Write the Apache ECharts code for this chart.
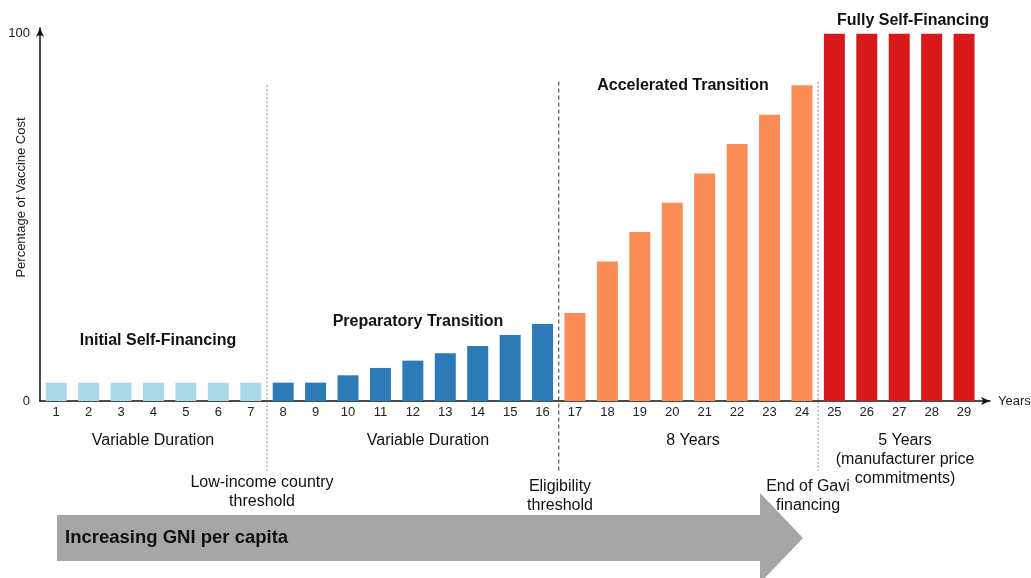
<!DOCTYPE html>
<html>
<head>
<meta charset="utf-8">
<script src="https://cdn.jsdelivr.net/npm/echarts@6/dist/echarts.min.js"></script>
<style>
html,body{margin:0;padding:0;background:#fff;}
#chart{width:1031px;height:578px;}
</style>
</head>
<body>
<div id="chart"></div>
<script>
// ---- data ----
const years = [1,2,3,4,5,6,7,8,9,10,11,12,13,14,15,16,17,18,19,20,21,22,23,24,25,26,27,28,29];
const costShare = [5,5,5,5,5,5,5, 5,5,7,9,11,13,15,18,21, 24,38,46,54,62,70,78,86, 100,100,100,100,100];
const phaseLastYear = [7, 16, 24, 29];
const phaseNames = ['Initial Self-Financing', 'Preparatory Transition', 'Accelerated Transition', 'Fully Self-Financing'];
const phaseDurations = ['Variable Duration', 'Variable Duration', '8 Years', '5 Years\n(manufacturer price\ncommitments)'];
const dividerYears = [7.5, 16.5, 24.5];
const dividerTops = [86, 87, 87];
const dividerLabels = ['Low-income country\nthreshold', 'Eligibility\nthreshold', 'End of Gavi\nfinancing'];
const yTicks = [0, 100];

const phaseColors = ['#abd9e9', '#2c7bb6', '#fc8d59', '#d7191c'];
const FONT = '"Liberation Sans", Arial, Helvetica, sans-serif';

function phaseOf(y){ for (let i=0;i<phaseLastYear.length;i++){ if (y<=phaseLastYear[i]) return i; } return phaseLastYear.length-1; }

const barData = years.map((y,i)=>({value:[y, costShare[i]], itemStyle:{color: phaseColors[phaseOf(y)]}}));
const dividerData = dividerYears.map((d,i)=>[d, dividerTops[i]]);
const dividerStyles = [
  {stroke:'#8a8a8a', lineDash:[2,2], lineWidth:1},
  {stroke:'#333333', lineDash:[4,3], lineWidth:1},
  {stroke:'#8a8a8a', lineDash:[2,2], lineWidth:1}
];

const chart = echarts.init(document.getElementById('chart'));

const T = (x, y, text, font, extra) => ({type:'text', x:x, y:y, z:3,
  style:Object.assign({text:text, font:font, fill:'#111', align:'center', verticalAlign:'middle'}, extra || {})});

const option = {
  animation:false,
  backgroundColor:'#fff',
  textStyle:{fontFamily:FONT},
  grid:{left:40, right:41, top:28, bottom:177, containLabel:false, outerBoundsMode:'none'},
  xAxis:{
    type:'value', min:0.5, max:29.8,
    name:'Years', nameLocation:'end', nameGap:8,
    nameTextStyle:{color:'#222', fontSize:13, fontFamily:FONT, verticalAlign:'middle'},
    axisLine:{show:true, lineStyle:{color:'#111', width:1.5}, symbol:['none','arrow'], symbolSize:[6,9]},
    axisTick:{show:false},
    splitLine:{show:false},
    axisLabel:{customValues:years, color:'#222', fontSize:13, margin:5, fontFamily:FONT}
  },
  yAxis:{
    type:'value', min:0, max:101.6,
    name:'Percentage of Vaccine Cost', nameLocation:'middle', nameGap:12, nameMoveOverlap:false,
    nameTextStyle:{color:'#222', fontSize:13, fontFamily:FONT, padding:[0,0,0,34]},
    axisLine:{show:true, lineStyle:{color:'#111', width:1.5}, symbol:['none','arrow'], symbolSize:[6,9]},
    axisTick:{show:false},
    splitLine:{show:false},
    axisLabel:{customValues:yTicks, color:'#222', fontSize:13, margin:10, fontFamily:FONT}
  },
  series:[
    {
      type:'bar', data:barData, barWidth:21
    },
    {
      type:'custom', clip:false, silent:true,
      data:dividerData,
      renderItem:function(params, api){
        const x = api.value(0);
        const top = api.coord([x, api.value(1)]);
        const base = api.coord([x, 0]);
        const s = dividerStyles[params.dataIndex];
        return {type:'line', shape:{x1:top[0], y1:top[1], x2:top[0], y2:base[1]+70}, style:Object.assign({fill:null}, s)};
      }
    }
  ],
  graphic:[
    {type:'polygon', shape:{points:[[57,515],[760,515],[760,493],[803,538],[760,583],[760,561],[57,561]]}, style:{fill:'#a6a6a6'}, z:0},
    T(65, 538, 'Increasing GNI per capita', 'bold 18.5px '+FONT, {align:'left'}),
    T(158, 341, phaseNames[0], 'bold 16px '+FONT),
    T(418, 322, phaseNames[1], 'bold 16px '+FONT),
    T(683, 86, phaseNames[2], 'bold 16px '+FONT),
    T(913, 21, phaseNames[3], 'bold 16px '+FONT),
    T(153, 441, phaseDurations[0], '16px '+FONT),
    T(428, 441, phaseDurations[1], '16px '+FONT),
    T(693, 441, phaseDurations[2], '16px '+FONT),
    T(905, 460, phaseDurations[3], '16px '+FONT, {lineHeight:19}),
    T(262, 492, dividerLabels[0], '16px '+FONT, {lineHeight:18.5}),
    T(560, 496, dividerLabels[1], '16px '+FONT, {lineHeight:18.5}),
    T(808, 496, dividerLabels[2], '16px '+FONT, {lineHeight:18.5})
  ]
};
chart.setOption(option);
</script>
</body>
</html>
